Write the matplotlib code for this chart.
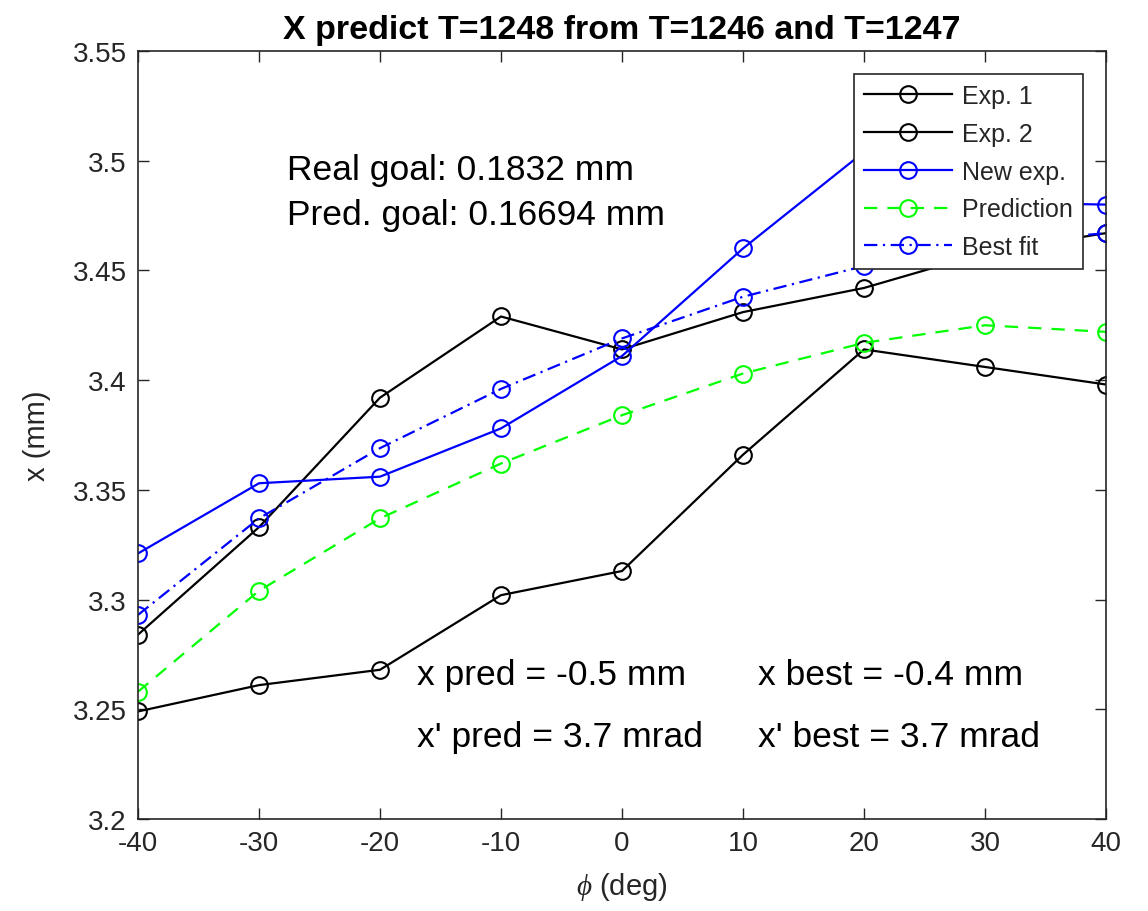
import matplotlib
matplotlib.use('Agg')
import matplotlib.pyplot as plt
from matplotlib.ticker import FormatStrFormatter

plt.rcParams['font.family'] = ['Liberation Sans', 'DejaVu Sans']
plt.rcParams['axes.unicode_minus'] = False
plt.rcParams['mathtext.fontset'] = 'custom'
plt.rcParams['mathtext.it'] = 'Liberation Serif:italic'

# scan angle and measured / fitted positions
phi = [-40, -30, -20, -10, 0, 10, 20, 30, 40]
exp1 = [3.284, 3.333, 3.392, 3.429, 3.414, 3.431, 3.442, 3.458, 3.467]
exp2 = [3.249, 3.261, 3.268, 3.302, 3.313, 3.366, 3.414, 3.406, 3.398]
new_exp = [3.321, 3.353, 3.356, 3.378, 3.411, 3.460, 3.504, 3.481, 3.480]
prediction = [3.258, 3.304, 3.337, 3.362, 3.384, 3.403, 3.417, 3.425, 3.422]
best_fit = [3.293, 3.337, 3.369, 3.396, 3.419, 3.438, 3.452, 3.462, 3.467]

xticks = [-40, -30, -20, -10, 0, 10, 20, 30, 40]
yticks = [3.2, 3.25, 3.3, 3.35, 3.4, 3.45, 3.5, 3.55]

axc = '#262626'
mk = dict(marker='o', markersize=12, markerfacecolor='none', markeredgewidth=1.5)

fig = plt.figure(figsize=(11.48, 9.12), dpi=100)
ax = fig.add_axes([0.1202, 0.1009, 0.8432, 0.8421])

ax.plot(phi, exp1, color='k', lw=1.6, label='Exp. 1', **mk)
ax.plot(phi, exp2, color='k', lw=1.6, label='Exp. 2', **mk)
ax.plot(phi, new_exp, color='#0000ff', lw=1.6, label='New exp.', **mk)
ax.plot(phi, prediction, color='#00ff00', lw=1.6, ls=(0, (6, 4.5)),
        label='Prediction', **mk)
ax.plot(phi, best_fit, color='#0000ff', lw=1.6, ls=(0, (6, 2.5, 1, 2.5)),
        label='Best fit', **mk)

ax.set_xlim(-40, 40)
ax.set_ylim(3.2, 3.55)
ax.set_xticks(xticks)
ax.set_yticks(yticks)
ax.yaxis.set_major_formatter(FormatStrFormatter('%g'))
ax.tick_params(direction='in', length=8, width=1, colors=axc, labelsize=20,
               top=True, right=True, pad=8)
for s in ax.spines.values():
    s.set_color(axc)
    s.set_linewidth(1.2)

ax.set_title('X predict T=1248 from T=1246 and T=1247', fontsize=24.5,
             fontweight='bold', pad=9)
ax.set_xlabel(r'$\phi$ (deg)', fontsize=21, color=axc, labelpad=10)
ax.set_ylabel('x (mm)', fontsize=21, color=axc, labelpad=16)

ax.text(-27.7, 3.4962, 'Real goal: 0.1832 mm', fontsize=25.5, va='center')
ax.text(-27.7, 3.4757, 'Pred. goal: 0.16694 mm', fontsize=25.5, va='center')
ax.text(-16.9, 3.2660, 'x pred = -0.5 mm', fontsize=25.5, va='center')
ax.text(-16.9, 3.2378, "x' pred = 3.7 mrad", fontsize=25.5, va='center')
ax.text(11.2, 3.2660, 'x best = -0.4 mm', fontsize=25.5, va='center')
ax.text(11.2, 3.2378, "x' best = 3.7 mrad", fontsize=25.5, va='center')

leg = ax.legend(loc='upper right', bbox_to_anchor=(0.976, 0.970),
                borderaxespad=0, fontsize=18, fancybox=False, framealpha=1,
                edgecolor=axc, handlelength=3.5, handletextpad=0.4,
                labelspacing=0.55, borderpad=0.4, numpoints=1)
leg.get_frame().set_linewidth(1.2)
for t in leg.get_texts():
    t.set_color(axc)

fig.savefig('out.png', dpi=100, facecolor='white')
